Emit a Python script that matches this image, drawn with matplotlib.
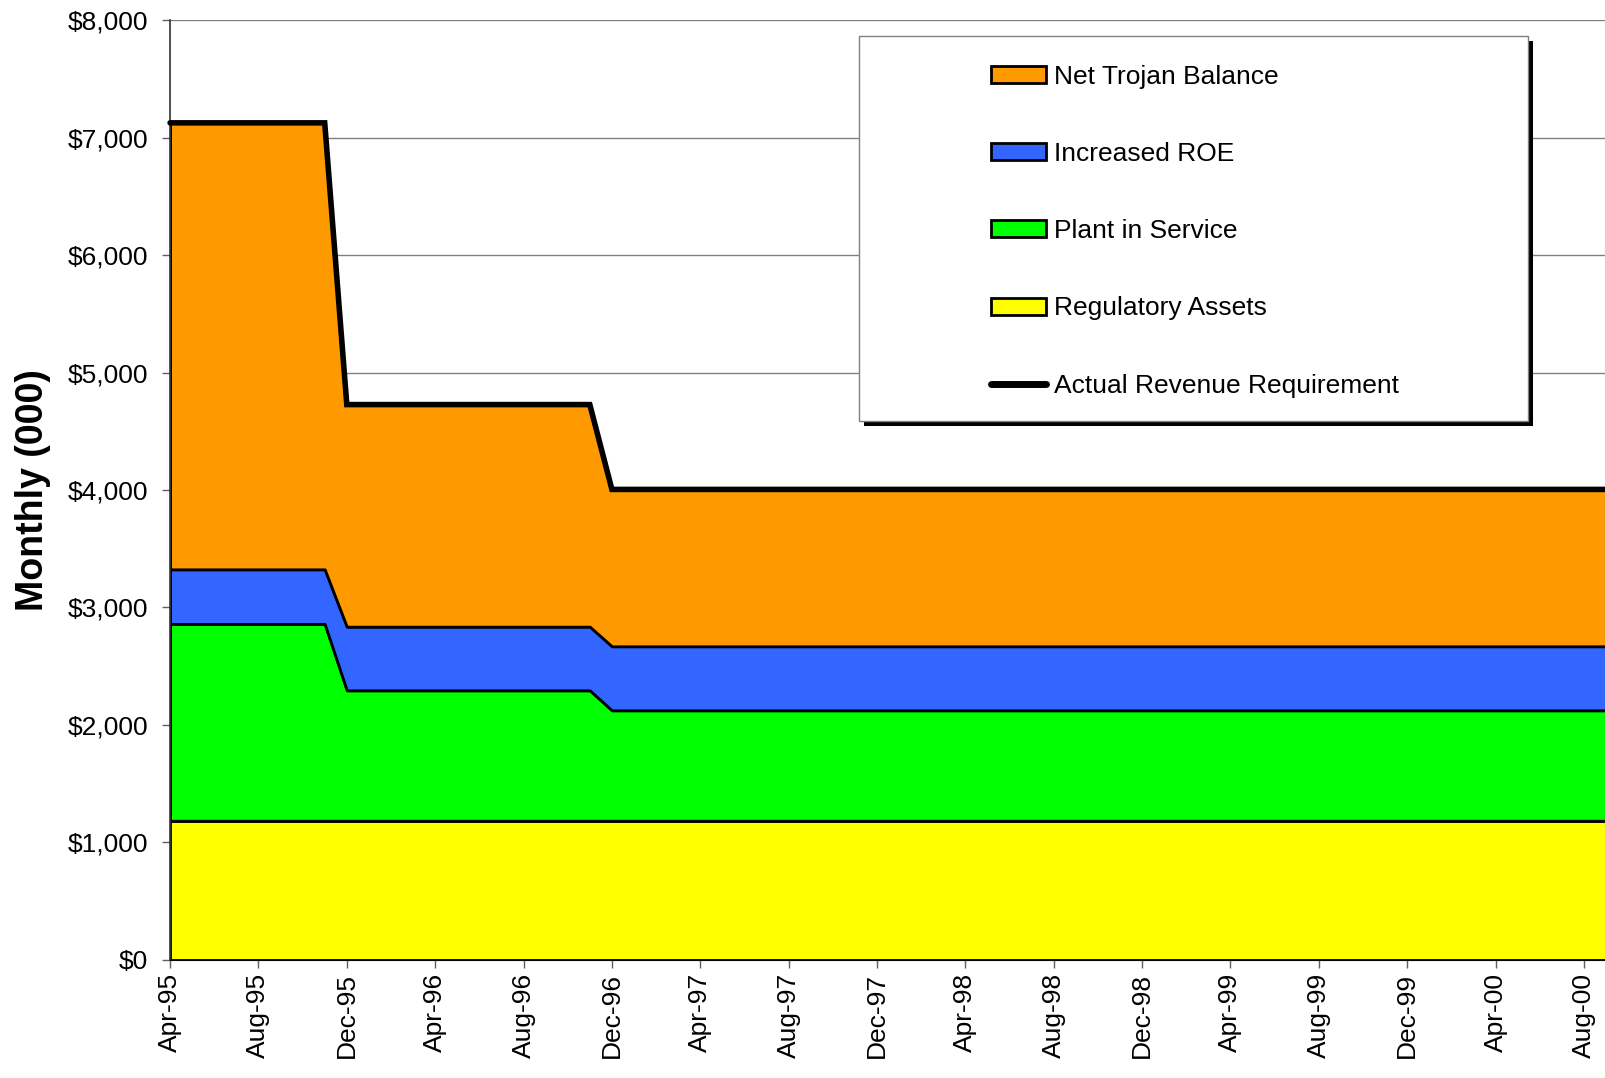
import numpy as np
import matplotlib
matplotlib.use("Agg")
import matplotlib.pyplot as plt
from matplotlib.patches import Rectangle, Patch
from matplotlib.lines import Line2D
from matplotlib.ticker import FuncFormatter

plt.rcParams['font.family'] = ['Liberation Sans', 'DejaVu Sans']

# monthly values ($000), Apr-95 .. Sep-00, constant within each rate period
period_months = [8, 12, 46]          # Apr-95..Nov-95, Dec-95..Nov-96, Dec-96..Sep-00
regulatory_assets = [1185, 1185, 1185]
plant_in_service = [1675, 1110, 940]
increased_roe = [465, 542, 545]
net_trojan = [3800, 1890, 1335]
actual_revenue = [7125, 4727, 4005]

tick_labels = ['Apr-95', 'Aug-95', 'Dec-95', 'Apr-96', 'Aug-96', 'Dec-96',
               'Apr-97', 'Aug-97', 'Dec-97', 'Apr-98', 'Aug-98', 'Dec-98',
               'Apr-99', 'Aug-99', 'Dec-99', 'Apr-00', 'Aug-00']

layers = [
    ('Regulatory Assets', regulatory_assets, '#FFFF00'),
    ('Plant in Service', plant_in_service, '#00FF00'),
    ('Increased ROE', increased_roe, '#3366FF'),
    ('Net Trojan Balance', net_trojan, '#FF9900'),
]

x = np.arange(sum(period_months))
fig = plt.figure(figsize=(16.06, 10.78), dpi=100)
ax = fig.add_axes([0.1059, 0.1095, 0.8941, 0.8719])

base = np.zeros(len(x))
for name, vals, color in layers:
    top = base + np.repeat(vals, period_months)
    ax.fill_between(x, base, top, facecolor=color, edgecolor='black',
                    linewidth=2, zorder=2)
    base = top

ax.plot(x, np.repeat(actual_revenue, period_months), color='black', lw=4,
        solid_capstyle='round', solid_joinstyle='miter', zorder=4,
        clip_on=False)

ax.set_xlim(0, len(x) - 1)
ax.set_ylim(0, 8000)
ax.set_xticks(np.arange(0, len(x) - 1, 4))
ax.set_xticklabels(tick_labels, rotation=90)
ax.set_yticks(np.arange(0, 8001, 1000))
ax.yaxis.set_major_formatter(FuncFormatter(lambda v, p: '${:,.0f}'.format(v)))
ax.tick_params(axis='both', labelsize=19, length=6, width=1, color='#606060',
               direction='out')
ax.tick_params(axis='y', pad=10)
ax.yaxis.grid(True, color='#808080', linewidth=1)
ax.set_axisbelow(True)
for s in ['top', 'right']:
    ax.spines[s].set_visible(False)
ax.spines['left'].set_color('#333333')
ax.spines['left'].set_linewidth(1.2)
ax.spines['bottom'].set_color('black')
ax.set_ylabel('Monthly (000)', fontsize=27, fontweight='bold', labelpad=12)

# legend box with solid black drop shadow
W, H = 1606.0, 1078.0
bx0, by0, bx1, by1 = 859, 36, 1528, 421
off = 5
fig.patches.append(Rectangle(((bx0 + off) / W, 1 - (by1 + off) / H),
                             (bx1 - bx0) / W, (by1 - by0) / H,
                             transform=fig.transFigure, facecolor='black',
                             edgecolor='none', zorder=5))
fig.patches.append(Rectangle((bx0 / W, 1 - by1 / H), (bx1 - bx0) / W,
                             (by1 - by0) / H, transform=fig.transFigure,
                             facecolor='white', edgecolor='#808080',
                             linewidth=1, zorder=6))

handles = [Patch(facecolor=c, edgecolor='black', linewidth=2)
           for _, _, c in layers[::-1]]
handles.append(Line2D([], [], color='black', lw=5, solid_capstyle='round'))
labels = [n for n, _, _ in layers[::-1]] + ['Actual Revenue Requirement']
leg = fig.legend(handles, labels, loc='upper left',
                 bbox_to_anchor=(980 / W, 1 - 54 / H), frameon=False,
                 fontsize=19, handlelength=2.1, handleheight=0.6,
                 handletextpad=0.3, labelspacing=2.02, borderaxespad=0)
leg.set_zorder(7)

fig.savefig('out.png', dpi=100)
